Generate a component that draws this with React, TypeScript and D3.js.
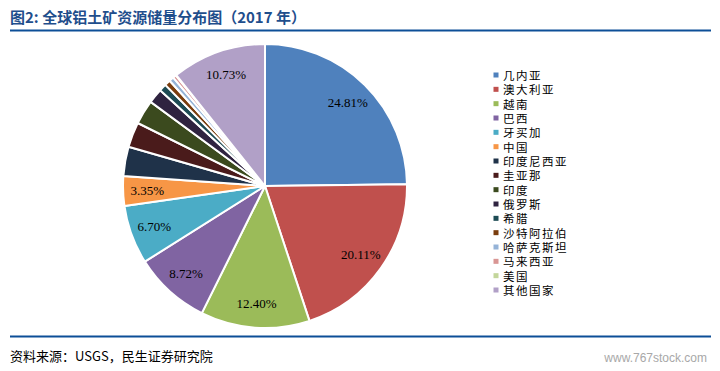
import React from "react";
import * as d3 from "d3";

const countries = [
  "几内亚", "澳大利亚", "越南", "巴西", "牙买加", "中国", "印度尼西亚", "圭亚那",
  "印度", "俄罗斯", "希腊", "沙特阿拉伯", "哈萨克斯坦", "马来西亚", "美国", "其他国家",
];
const shares = [24.81, 20.11, 12.4, 8.72, 6.7, 3.35, 3.35, 2.85, 2.78, 1.68, 0.84, 0.67, 0.54, 0.37, 0.07, 10.73];
const colors = [
  "#4f81bd", "#c0504d", "#9bbb59", "#8064a2", "#4bacc6", "#f79646", "#1f3249", "#4a1b1b",
  "#3b4a1e", "#2f2340", "#1d4b54", "#7a3d0e", "#95b3d7", "#d99694", "#c3d69b", "#b1a0c7",
];
const labelled = ["几内亚", "澳大利亚", "越南", "巴西", "牙买加", "中国", "其他国家"];

const W = 720;
const H = 371;
const cx = 265;
const cy = 186;
const R = 142;

export default function App() {
  const data = countries.map((c, i) => ({ name: c, value: shares[i], color: colors[i] }));
  const pie = d3.pie<any>().value((d) => d.value).sort(null);
  const arcs = pie(data);
  const arc = d3.arc<any>().innerRadius(0).outerRadius(R);
  const labelArc = d3.arc<any>().innerRadius(R * 0.83).outerRadius(R * 0.83);

  const legendY = d3.scalePoint<string>().domain(countries).range([75, 290]);

  return (
    <svg width={W} height={H} style={{ position: "absolute", left: 0, top: 0, background: "#fff" }}>
      <text x={10} y={23} fontFamily="'Noto Sans CJK SC', sans-serif" fontWeight="bold" fontSize={15} fill="#1f4e8c">
        图2: 全球铝土矿资源储量分布图（2017 年）
      </text>
      <line x1={10} x2={711} y1={30.5} y2={30.5} stroke="#0d4f97" strokeWidth={2} />

      <g transform={`translate(${cx},${cy})`}>
        {arcs.map((a, i) => (
          <path key={i} d={arc(a) || ""} fill={a.data.color} stroke="#fff" strokeWidth={2} strokeLinejoin="round" />
        ))}
        {arcs
          .filter((a) => labelled.includes(a.data.name))
          .map((a, i) => {
            const [x, y] = labelArc.centroid(a);
            return (
              <text key={i} x={x} y={y} textAnchor="middle" dominantBaseline="central"
                fontFamily="'Liberation Serif', serif" fontSize={13} fill="#000">
                {a.data.value.toFixed(2)}%
              </text>
            );
          })}
      </g>

      <g>
        {data.map((d, i) => (
          <g key={i} transform={`translate(496,${legendY(d.name)})`}>
            <rect x={-2.5} y={-2.5} width={5} height={5} fill={d.color} />
            <text x={7} y={0} dominantBaseline="central" fontFamily="'Noto Sans CJK SC', sans-serif" fontSize={11.5} letterSpacing={1.5} fill="#000">
              {d.name}
            </text>
          </g>
        ))}
      </g>

      <line x1={10} x2={711} y1={336.5} y2={336.5} stroke="#0d4f97" strokeWidth={2} />
      <text x={10} y={361} fontFamily="'Noto Sans CJK SC', sans-serif" fontSize={13} fill="#000">
        资料来源：USGS，民生证券研究院
      </text>
      <text x={707} y={362} textAnchor="end" fontFamily="'Liberation Sans', sans-serif" fontSize={12} fill="#a8a8a8">
        www.767stock.com
      </text>
    </svg>
  );
}
